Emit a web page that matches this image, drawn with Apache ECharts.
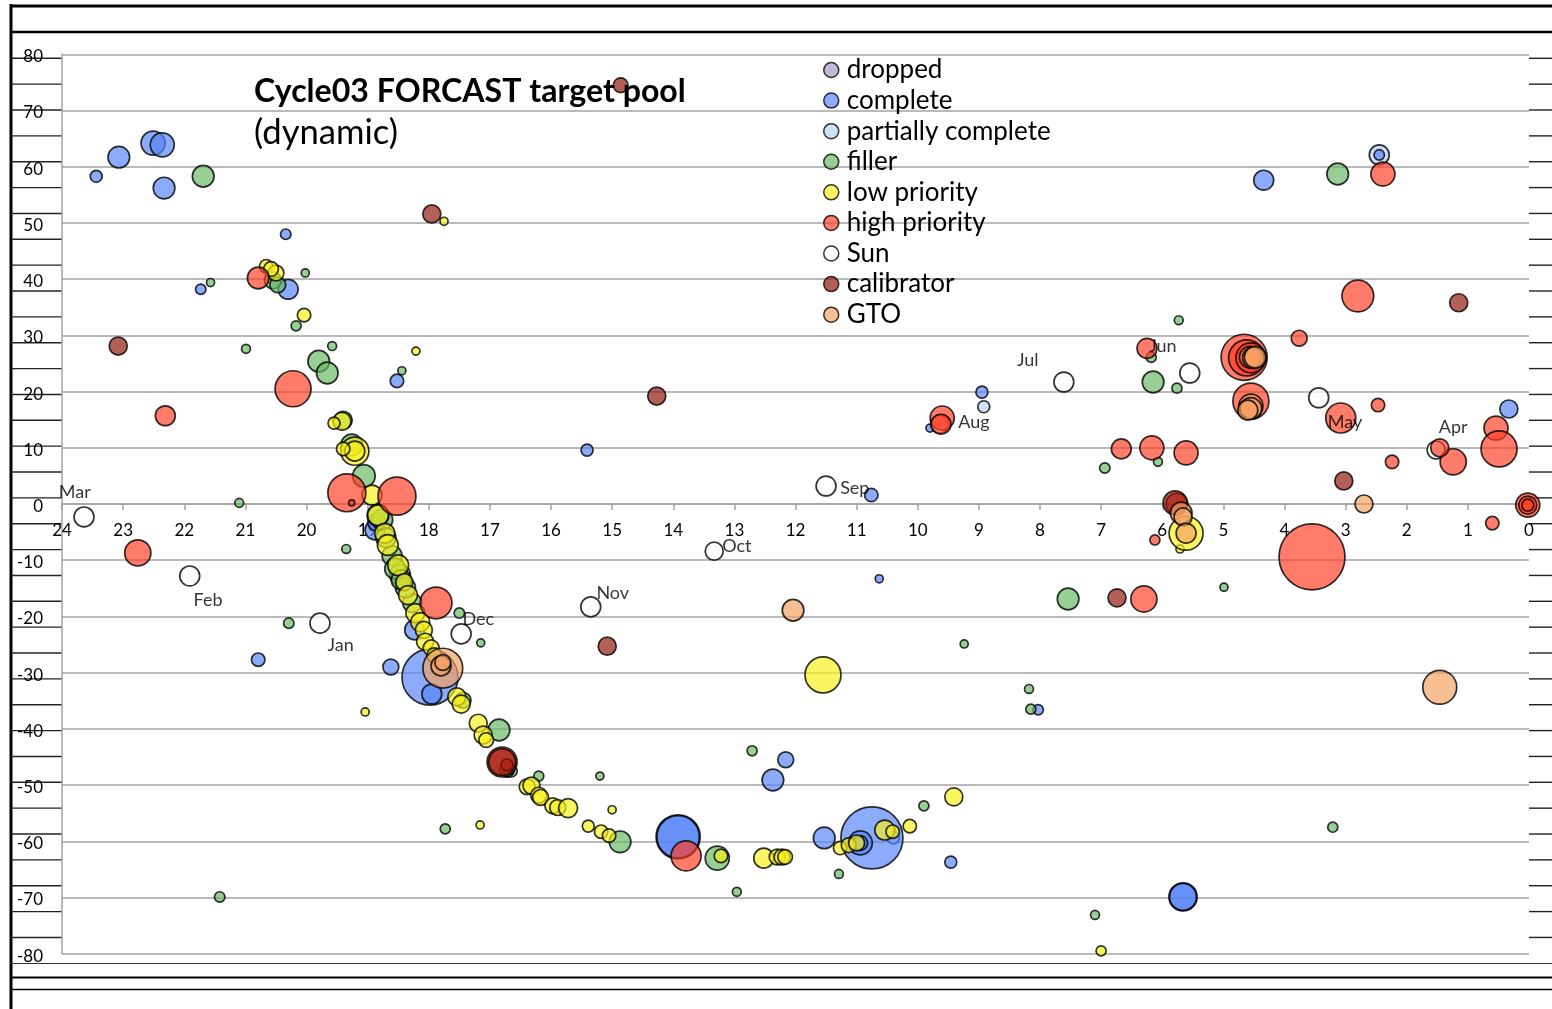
<!DOCTYPE html>
<html><head><meta charset="utf-8">
<script src="https://cdn.jsdelivr.net/npm/echarts@6.0.0/dist/echarts.min.js"></script>
<style>html,body{margin:0;padding:0;background:#fff}#c{width:1552px;height:1009px}</style>
</head><body><div id="c"></div>
<script>
// ---------- data: [x (hours), y (deg), weight] ----------
const dropped = [];
const complete = [
 [23.44,58.3,4],[23.07,61.7,13],[22.51,64.2,16],[22.36,63.9,16],[22.33,56.2,13],
 [20.34,48.0,3],[21.73,38.2,3],[20.30,38.2,11],[18.52,21.9,5],[15.41,9.6,4],
 [20.79,-27.7,5],[18.62,-29.0,7],[17.98,-30.8,87],[17.95,-33.8,11],[18.88,-4.6,11],
 [18.85,-3.2,9],[18.23,-22.4,11],[13.92,-59.2,54],[13.92,-59.2,50],[12.37,-49.1,13],
 [12.16,-45.5,7],[11.53,-59.4,13],[10.75,-59.4,107],[10.94,-60.3,16],[10.94,-60.3,6],
 [9.46,-63.7,4],[10.63,-13.3,1.8],[10.76,1.6,5],[8.95,19.9,4],[9.80,13.5,1.8],
 [8.03,-36.6,3],[5.66,-69.9,22],[5.66,-69.9,20],[4.34,57.6,11],[0.33,16.9,9],[2.45,62.1,3]
];
const partial = [[2.45,62.1,11],[8.92,17.3,4],[10.40,-59.4,4]];
const filler = [
 [21.69,58.3,13],[21.57,39.4,1.8],[20.02,41.1,1.8],[20.17,31.7,2.8],[20.99,27.6,2.2],
 [19.58,28.1,2.2],[19.80,25.4,13],[19.66,23.3,13],[18.44,23.7,1.8],[20.55,39.8,8],
 [20.47,39.0,7],[21.10,0.2,2.2],[19.35,-8.0,2.2],[20.29,-21.2,3],[17.50,-19.4,3],
 [17.15,-24.7,1.8],[21.42,-69.9,3],[17.73,-57.8,2.8],[16.85,-40.2,13],[16.65,-47.5,4],
 [16.20,-48.4,2.8],[15.20,-48.4,1.8],[14.87,-60.1,13],[13.28,-63.0,16],[12.71,-43.9,2.8],
 [12.96,-69.0,2.2],[11.29,-65.8,2.2],[9.90,-53.7,2.8],[9.24,-24.9,1.8],[8.18,-32.9,2.2],
 [8.15,-36.5,2.8],[7.54,-16.9,13],[7.10,-73.1,2.2],[6.94,6.4,3],[6.07,7.5,2.2],
 [6.15,21.7,13],[5.76,20.6,2.8],[6.18,26.1,2.8],[5.73,32.7,2.2],[4.99,-14.8,1.8],
 [3.21,-57.5,2.8],[3.13,58.7,13],
 [19.26,10.5,13],[19.40,14.9,9],[19.06,5.0,14],[18.76,-2.8,12],[18.60,-9.2,11],
 [18.47,-12.6,12],[18.27,-17.6,10],[17.44,-34.9,7],[16.72,-47.3,6],[18.83,-2.0,13],
 [18.55,-11.5,12],[18.38,-14.9,11],[18.70,-6.0,11],[18.45,-13.5,11]
];
const lowPriority = [
 [20.66,42.3,5],[20.50,41.1,7],[20.58,41.8,6],[20.04,33.6,5],[18.21,27.2,1.8],
 [17.75,50.3,1.8],[19.04,-37.0,1.8],[17.16,-57.1,1.8],[15.00,-54.4,1.8],[15.39,-57.3,4],
 [15.18,-58.3,5],[15.05,-59.0,5],[11.55,-30.4,36],[9.41,-52.1,9],[10.13,-57.3,5],
 [10.54,-58.0,11],[10.41,-58.3,5],[11.27,-61.2,5],[11.13,-60.7,6],[11.00,-60.3,7],
 [12.52,-63.0,11],[12.30,-62.8,7],[12.22,-62.8,7],[12.17,-62.8,6],[13.22,-62.6,5],
 [7.00,-79.5,2.8],[5.71,-8.0,1.8],[5.61,-5.2,32],
 [19.42,14.7,9],[19.55,14.4,4],[19.21,9.4,22],[19.21,9.4,11],[19.40,9.8,5],
 [18.93,1.6,11],[18.83,-2.0,12],[18.72,-5.2,11],[18.67,-7.3,12],[18.50,-10.9,12],
 [18.40,-13.9,8],[18.34,-16.2,10],[18.22,-19.4,10],[18.14,-21.0,10],[18.08,-22.4,8],
 [18.06,-24.5,8],[17.96,-25.6,7],[17.91,-26.9,6],[17.54,-34.3,9],[17.47,-35.6,9],
 [17.19,-39.0,9],[17.11,-41.1,9],[17.06,-42.0,6],[16.70,-47.8,1.8],[16.39,-50.3,7],
 [16.32,-50.1,8],[16.20,-51.8,7],[16.17,-52.2,7],[15.97,-53.7,7],[15.89,-54.0,7],[15.72,-54.1,10]
];
const highPriority = [
 [22.31,15.7,11],[22.76,-8.7,19],[20.22,20.5,36],[20.79,40.2,13],[19.34,2.0,40],
 [18.52,1.4,40],[19.26,0.2,1],[17.88,-17.6,28],[16.80,-45.9,25],[16.72,-46.4,4],
 [13.79,-62.6,25],[9.60,15.3,16],[9.62,14.2,11],[6.67,9.8,11],[6.17,10.0,16],
 [5.61,9.1,16],[6.25,27.7,11],[6.12,-6.4,2.8],[5.76,0.0,13],[6.30,-16.9,19],
 [4.66,26.1,59],[4.62,26.0,36],[4.55,26.0,25],[4.55,18.3,36],[3.76,29.5,7],
 [2.80,37.0,28],[3.08,15.3,25],[3.55,-9.4,121],[2.47,17.6,5],[2.24,7.5,5],
 [2.39,58.7,16],[1.24,7.5,19],[1.46,10.0,9],[0.54,13.5,16],[0.49,9.8,36],
 [0.60,-3.4,5],[0.02,-0.2,16],[0.02,-0.2,9],[0.02,-0.2,4]
];
const sun = [
 [23.64,-2.3,11],[21.91,-12.8,11],[19.78,-21.2,11],[17.47,-23.1,11],[15.35,-18.3,11],
 [13.33,-8.4,9],[11.50,3.2,11],[9.64,14.2,9],[7.61,21.7,11],[5.55,23.3,11],
 [3.44,18.9,11],[1.52,9.6,9]
];
const calibrator = [
 [23.08,28.1,9],[17.95,51.6,9],[14.86,74.5,6],[14.27,19.2,9],[15.08,-25.3,9],
 [16.80,-45.9,20],[5.79,0.2,16],[6.74,-16.7,9],[1.15,35.8,9],[3.03,4.1,9]
];
const gto = [
 [17.77,-29.2,44],[17.80,-28.8,11],[17.77,-28.2,7],[12.04,-18.9,13],[5.69,-1.6,13],
 [5.66,-2.3,9],[5.61,-5.2,11],[4.56,26.1,13],[4.51,26.0,13],[4.48,26.1,13],
 [4.55,17.4,16],[4.55,17.0,13],[4.60,16.7,11],[2.70,0.0,9],[1.46,-32.6,32]
];
const monthNames = ['Mar','Feb','Jan','Dec','Nov','Oct','Sep','Aug','Jul','Jun','May','Apr'];
const monthPos = [
 [23.79,2.1],[21.61,-17.1],[19.44,-25.1],[17.19,-20.5],[14.99,-15.8],[12.96,-7.5],
 [11.03,2.8],[9.08,14.6],[8.20,25.6],[5.99,28.1],[3.01,14.6],[1.24,13.7]
];
const seriesNames = ['dropped','complete','partially complete','filler','low priority','high priority','Sun','calibrator','GTO'];
const titleText = 'Cycle03 FORCAST target pool';
const subtitleText = '(dynamic)';

// ---------- fonts fitted to reference widths ----------
const FAM = 'Lato';
const cv = document.createElement('canvas').getContext('2d');
function fit(t, w, weight){ cv.font=(weight||'normal')+' 100px '+FAM; return 100*w/cv.measureText(t).width; }
const titleSize = fit(titleText, 432, 'bold');
const subSize = fit(subtitleText, 144);
const legendSize = fit('partially complete', 204);
const axisSize = fit('-80', 26);
const monthSize = fit('Feb', 29);

function bubble(name, data, color, z){
  return { name, type:'scatter', data, z: z||2,
    symbolSize: v => 6*Math.sqrt(v[2]),
    itemStyle:{ color, borderColor:'#000', borderWidth:1.7 },
    emphasis:{ disabled:true }, silent:true };
}

const GRID = '#a3a3a3';
const PLOT_TOP = 54.3, PLOT_BOTTOM = 55.3, H = 1009;
const plotH = H - PLOT_TOP - PLOT_BOTTOM;
const gfx = [];
const L = (x1,y1,x2,y2,w,c) => gfx.push({type:'line',silent:true,shape:{x1,y1,x2,y2},style:{stroke:c||'#000',lineWidth:w}});
L(10,6,1552,6,3); L(10,32,1552,32,2.5); L(11,4,11,1009,3);
L(10,963.5,1552,963.5,1.2,'#333'); L(10,977.5,1552,977.5,2.2); L(10,989.5,1552,989.5,1.5);
for(let i=0;i<35;i++){ const y=58.3+i*25.857; L(11,y,62,y,1.4,'#222'); L(1529,y,1552,y,1.4,'#222'); }
gfx.push({type:'text',x:254,y:92,silent:true,z:20,style:{text:titleText,font:'bold '+titleSize+'px '+FAM,fill:'#000',textVerticalAlign:'middle'}});
gfx.push({type:'text',x:254,y:133,silent:true,z:20,style:{text:subtitleText,font:subSize+'px '+FAM,fill:'#000',textVerticalAlign:'middle'}});

const chart = echarts.init(document.getElementById('c'), null, {renderer:'canvas'});
chart.setOption({
  animation:false,
  backgroundColor:'#fff',
  textStyle:{fontFamily:FAM},
  grid:{left:62,right:23,top:PLOT_TOP,bottom:PLOT_BOTTOM,containLabel:false},
  xAxis:{type:'value',inverse:true,min:0,max:24,interval:1,
    offset:-plotH/2,
    axisLine:{onZero:false,lineStyle:{color:GRID,width:1.5}},
    axisTick:{show:true,length:6,lineStyle:{color:GRID,width:1.5}},
    axisLabel:{fontSize:axisSize,color:'#000',margin:27-axisSize/2,showMinLabel:true,showMaxLabel:true,fontFamily:FAM},
    splitLine:{show:false}},
  yAxis:{type:'value',min:-80,max:80,interval:10,
    axisLine:{show:true,onZero:false,lineStyle:{color:GRID,width:1.5}},
    axisTick:{show:false},
    axisLabel:{fontSize:axisSize,color:'#000',margin:19,fontFamily:FAM,
      formatter: v => '{a|' + v + '}',
      rich:{a:{fontSize:axisSize,fontFamily:FAM,color:'#000',padding:[5,0,0,0]}}},
    splitLine:{show:true,lineStyle:{color:GRID,width:1.5}}},
  legend:{data:seriesNames,orient:'vertical',left:823,top:70-legendSize/2,padding:0,
    itemWidth:15,itemHeight:15,itemGap:30.6-legendSize,
    icon:'circle',selectedMode:false,
    itemStyle:{borderColor:'#000',borderWidth:1.5},
    textStyle:{fontSize:legendSize,color:'#000',fontFamily:FAM,padding:[0,0,0,3]}},
  graphic:gfx,
  series:[
    bubble('dropped', dropped, 'rgba(168,150,197,0.85)'),
    bubble('partially complete', partial, 'rgba(186,209,246,0.85)'),
    bubble('complete', complete, 'rgba(86,132,247,0.85)'),
    bubble('filler', filler, 'rgba(102,184,100,0.85)'),
    bubble('low priority', lowPriority, 'rgba(248,241,27,0.85)'),
    bubble('Sun', sun, 'rgba(255,255,255,0.9)'),
    bubble('high priority', highPriority, 'rgba(255,61,36,0.85)'),
    bubble('calibrator', calibrator, 'rgba(143,22,9,0.85)'),
    bubble('GTO', gto, 'rgba(246,161,98,0.85)'),
    { name:'months', type:'scatter', silent:true, z:10, symbolSize:0,
      data: monthPos.map((p,i)=>({value:p, name:monthNames[i]})),
      label:{show:true,position:'inside',formatter:'{b}',fontSize:monthSize,color:'#000',fontFamily:FAM} }
  ]
});
</script></body></html>
